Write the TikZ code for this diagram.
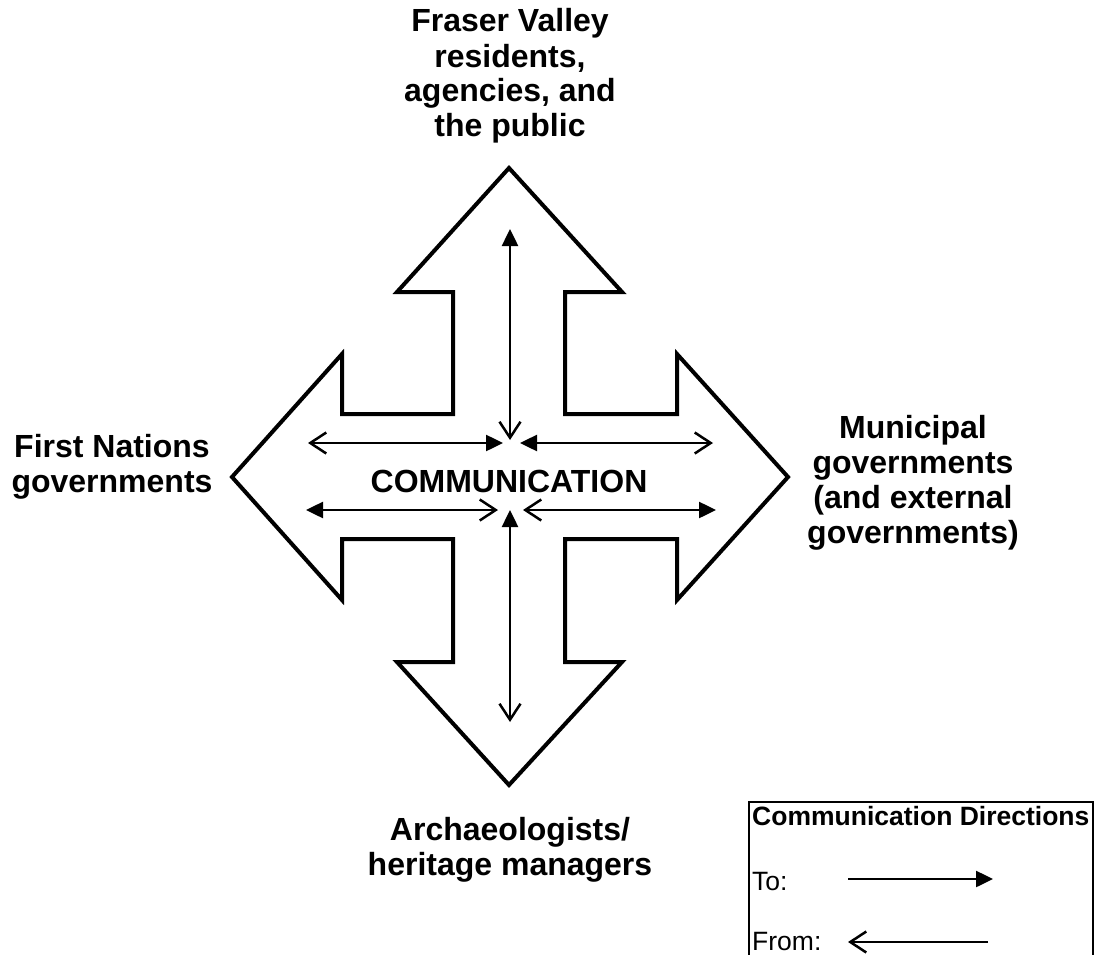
\documentclass[tikz,border=0pt]{standalone}
\usepackage{fontspec}
\setmainfont{Liberation Sans}
\usetikzlibrary{arrows.meta}
\begin{document}
\begin{tikzpicture}[x=1pt,y=-1pt,
  bigarrow/.style={line width=4pt, line join=miter, miter limit=20},
  lbl/.style={font=\bfseries\fontsize{32}{35}\selectfont, align=center, inner sep=0pt, anchor=base},
  leg/.style={font=\fontsize{26.5}{30}\selectfont, inner sep=0pt, anchor=base west},
  filledtip/.style={-{Triangle[length=17pt,width=16pt]}},
  opentip/.style={-{Straight Barb[length=16pt,width=21pt,line width=2.5pt]}},
  link/.style={line width=2.5pt, {Straight Barb[length=16pt,width=21pt,line width=2.5pt]}-{Triangle[length=17pt,width=16pt]}},
  legbox/.style={line width=1.5pt},
]
\useasboundingbox (0,0) rectangle (1095,955);

% big four-way arrow
\draw[bigarrow] (509,168) -- (622,292) -- (565,292) -- (565,414) -- (677,414) -- (677,354)
  -- (788,477) -- (677,600) -- (677,539) -- (565,539) -- (565,662) -- (622,662)
  -- (509,785) -- (397,662) -- (453,662) -- (453,539) -- (342,539) -- (342,600)
  -- (232,477) -- (342,354) -- (342,414) -- (453,414) -- (453,292) -- (397,292) -- cycle;

% coordinates for inner arrows
\coordinate (vtA) at (510,440);
\coordinate (vtB) at (510,229);
\coordinate (vbA) at (510,722);
\coordinate (vbB) at (510,510);
\coordinate (tlA) at (308,443);
\coordinate (tlB) at (503,443);
\coordinate (trA) at (713,443);
\coordinate (trB) at (520,443);
\coordinate (blA) at (498,510);
\coordinate (blB) at (306,510);
\coordinate (brA) at (523,510);
\coordinate (brB) at (716,510);

\draw[link] (vtA) -- (vtB);
\draw[link] (vbA) -- (vbB);
\draw[link] (tlA) -- (tlB);
\draw[link] (trA) -- (trB);
\draw[link] (blA) -- (blB);
\draw[link] (brA) -- (brB);

% labels (base anchor = baseline of last line)
\node[lbl] (fraser) at (510,137) {Fraser Valley\\residents,\\agencies, and\\the public};
\node[lbl] (first) at (112,492) {First Nations\\governments};
\node[lbl] (muni) at (913,543) {Municipal\\governments\\(and external\\governments)};
\node[lbl] (arch) at (510,875) {Archaeologists/\\heritage managers};
\node[lbl] (comm) at (509,492) {COMMUNICATION};

% legend
\draw[legbox] (749,960) -- (749,802) -- (1093,802) -- (1093,960);
\node[leg, font=\bfseries\fontsize{26.5}{30}\selectfont] (legt) at (752,825) {Communication Directions};
\node[leg] (to) at (752,890) {To:};
\node[leg] (from) at (752,950) {From:};
\coordinate (toA) at (848,879);
\coordinate (toB) at (993,879);
\coordinate (frA) at (988,942);
\coordinate (frB) at (848,942);
\draw[line width=2.5pt, filledtip] (toA) -- (toB);
\draw[line width=2.5pt, opentip] (frA) -- (frB);
\end{tikzpicture}
\end{document}
